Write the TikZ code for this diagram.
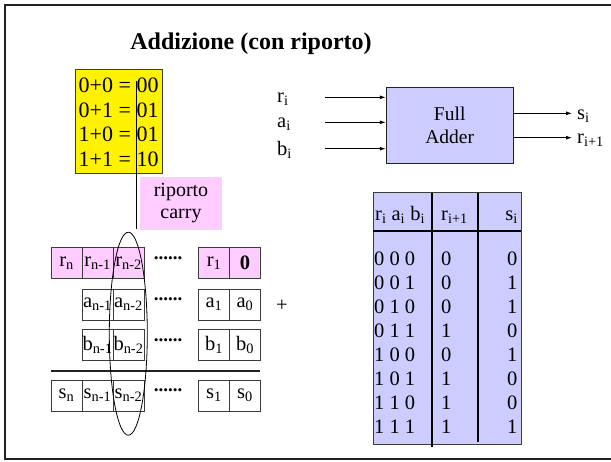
\documentclass[tikz,border=0pt]{standalone}
\usepackage{fontspec}
\setmainfont{Liberation Serif}
\usetikzlibrary{arrows.meta}
\definecolor{pinkfill}{RGB}{255,204,255}
\definecolor{lavender}{RGB}{204,204,255}
\definecolor{framegray}{RGB}{34,34,34}
\definecolor{cellline}{RGB}{60,60,60}
\newcommand{\sbs}[1]{\textsubscript{#1}}
\tikzset{
  txt/.style={font=\fontsize{20.5}{24}\selectfont, inner sep=0pt},
  sumtxt/.style={font=\fontsize{22}{24}\selectfont, inner sep=0pt},
  cell/.style={draw=cellline, line width=0.8pt, minimum width=31pt, minimum height=31pt,
               inner sep=0pt, font=\fontsize{20.5}{24}\selectfont},
  rcell/.style={cell, fill=pinkfill},
  dotsnode/.style={font=\fontsize{19}{22}\selectfont\bfseries, inner sep=0pt},
  wire/.style={line width=0.9pt, -{Latex[length=6pt,width=4pt]}},
}
\begin{document}
\begin{tikzpicture}[x=1pt,y=-1pt]
\useasboundingbox (0,0) rectangle (611,461);
% frame
\draw[framegray, line width=2.4pt] (611,5) -- (5,5) -- (5,459) -- (611,459);
% title
\node[font=\fontsize{24}{28}\selectfont\bfseries, inner sep=0pt] (title) at (251,44) {Addizione (con riporto)};

% single-bit sums
\node[draw=cellline, line width=0.8pt, fill=yellow, minimum width=87pt, minimum height=104pt,
      inner sep=0pt] (sums) at (118.5,121) {};
\node[sumtxt, anchor=base west] (s00) at (78.5,92) {0+0 = 00};
\node[sumtxt, anchor=base west] (s01) at (78.5,117) {0+1 = 01};
\node[sumtxt, anchor=base west] (s10) at (78.5,141.5) {1+0 = 01};
\node[sumtxt, anchor=base west] (s11) at (78.5,166) {1+1 = 10};
\coordinate (ctop) at (136,81);
\coordinate (cbot) at (136,229);
\draw[line width=0.9pt] (ctop) -- (cbot);
\node[fill=pinkfill, minimum width=82pt, minimum height=53pt, inner sep=0pt, align=center,
      font=\fontsize{20}{22}\selectfont] (carry) at (181,203.5) {riporto\\carry};

% carry row
\node[rcell] (rn)  at (66.5,263) {r\sbs{n}};
\node[rcell] (rn1) at (97.5,263) {r\sbs{n-1}};
\node[rcell] (rn2) at (128.5,263) {r\sbs{n-2}};
\node[dotsnode] (rdots) at (168,258) {......};
\node[rcell] (r1) at (214,263) {r\sbs{1}};
\node[rcell] (r0) at (245,263) {\textbf{0}};
% operand a
\node[cell] (an1) at (97.5,304.5) {a\sbs{n-1}};
\node[cell] (an2) at (128.5,304.5) {a\sbs{n-2}};
\node[dotsnode] (adots) at (168,299.5) {......};
\node[cell] (a1) at (214,304.5) {a\sbs{1}};
\node[cell] (a0) at (245,304.5) {a\sbs{0}};
\node[txt] (plus) at (282,306) {+};
% operand b
\node[cell] (bn1) at (97.5,345) {b\sbs{n-1}};
\node[cell] (bn2) at (128.5,345) {b\sbs{n-2}};
\node[dotsnode] (bdots) at (168,340) {......};
\node[cell] (b1) at (214,345) {b\sbs{1}};
\node[cell] (b0) at (245,345) {b\sbs{0}};
% result line
\coordinate (ll) at (51,371);
\coordinate (lr) at (260,371);
\draw[line width=1.8pt, framegray] (ll) -- (lr);
% sum row
\node[cell] (sn)  at (66.5,395.5) {s\sbs{n}};
\node[cell] (sn1) at (97.5,395.5) {s\sbs{n-1}};
\node[cell] (sn2) at (128.5,395.5) {s\sbs{n-2}};
\node[dotsnode] (sdots) at (168,390.5) {......};
\node[cell] (s1) at (214,395.5) {s\sbs{1}};
\node[cell] (s0) at (245,395.5) {s\sbs{0}};
% column in focus
\draw[line width=0.8pt] (128.3,333.7) ellipse [x radius=19, y radius=101.5];

% full adder block
\node[draw=framegray, line width=0.9pt, fill=lavender, minimum width=127pt, minimum height=76pt,
      inner sep=0pt, align=center, font=\fontsize{19.5}{23}\selectfont] (fa) at (449.7,125.3) {Full\\Adder};
\node[txt, anchor=west] (ri) at (277,99.5) {r\sbs{i}};
\node[txt, anchor=west] (ai) at (277,124) {a\sbs{i}};
\node[txt, anchor=west] (bi) at (277,149.5) {b\sbs{i}};
\coordinate (ri0) at (325,97.3);
\coordinate (ai0) at (325,122.3);
\coordinate (bi0) at (325,148.7);
\draw[wire] (ri0) -- (ri0 -| fa.west);
\draw[wire] (ai0) -- (ai0 -| fa.west);
\draw[wire] (bi0) -- (bi0 -| fa.west);
\node[txt, anchor=west] (si) at (577,116) {s\sbs{i}};
\node[txt, anchor=west] (ri1) at (577,140.5) {r\sbs{i+1}};
\coordinate (so) at (572,113.3);
\coordinate (co) at (572,137.7);
\draw[wire] (so -| fa.east) -- (so);
\draw[wire] (co -| fa.east) -- (co);

% truth table
\node[draw=cellline, line width=0.9pt, fill=lavender, minimum width=147.7pt, minimum height=251.6pt,
      inner sep=0pt] (tt) at (447.2,318.5) {};
\draw[line width=1.8pt] (431.7,192.7) -- (431.7,446.5);
\draw[line width=1.8pt] (477.7,192.7) -- (477.7,442);
\draw[line width=1.8pt] (373.3,231) -- (521,231);
\node[txt, anchor=base west] (h1) at (375,220) {r\sbs{i} a\sbs{i} b\sbs{i}};
\node[txt, anchor=base west] (h2) at (441,220) {r\sbs{i+1}};
\node[txt, anchor=base east] (h3) at (518,220) {s\sbs{i}};
\foreach \abc/\r/\s [count=\k from 0] in {0 0 0/0/0, 0 0 1/0/1, 0 1 0/0/1, 0 1 1/1/0,
                                          1 0 0/0/1, 1 0 1/1/0, 1 1 0/1/0, 1 1 1/1/1}{
  \node[txt, anchor=base west] (in\k) at (374,265+24*\k) {\abc};
  \node[txt, anchor=base west] (co\k) at (441,265+24*\k) {\r};
  \node[txt, anchor=base east] (so\k) at (517.5,265+24*\k) {\s};
}
\end{tikzpicture}
\end{document}
